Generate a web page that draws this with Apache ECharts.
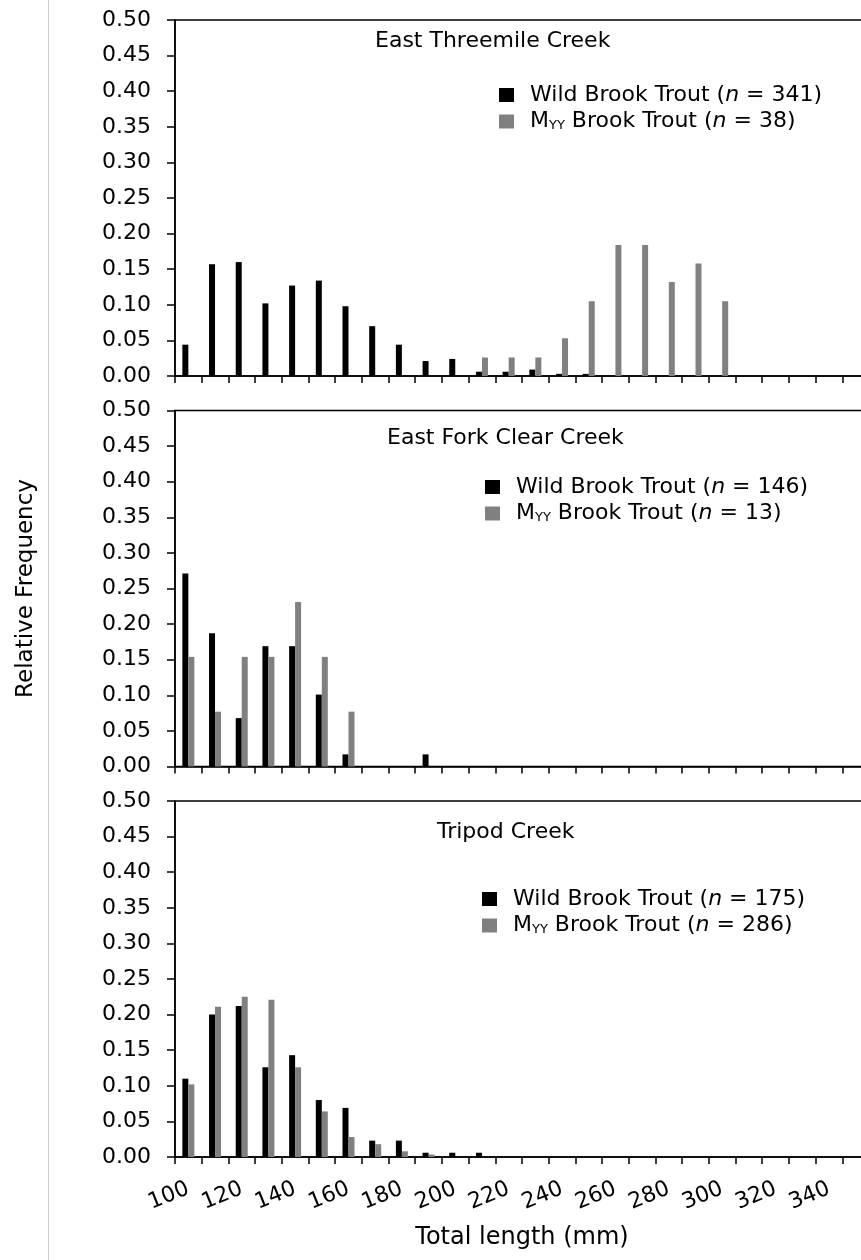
<!DOCTYPE html>
<html>
<head>
<meta charset="utf-8">
<script src="https://cdn.jsdelivr.net/npm/echarts@6/dist/echarts.min.js"></script>
<style>html,body{margin:0;padding:0;background:#fff}#c{width:861px;height:1260px}</style>
</head>
<body>
<div id="c"></div>
<script>
// ---- data ----
const categories = ['100','110','120','130','140','150','160','170','180','190','200','210','220','230','240','250','260','270','280','290','300','310','320','330','340','350'];
const yTicks = [0,0.05,0.10,0.15,0.20,0.25,0.30,0.35,0.40,0.45,0.50];
const panelTitles = ['East Threemile Creek','East Fork Clear Creek','Tripod Creek'];
const wildN = ['341','146','175'];
const myyN = ['38','13','286'];
// East Threemile Creek
const etcWild = [0.044,0.157,0.160,0.102,0.127,0.134,0.098,0.070,0.044,0.021,0.024,0.006,0.006,0.009,0.003,0.003,0,0,0,0,0,0,0,0,0,0];
const etcMyy  = [0,0,0,0,0,0,0,0,0,0,0,0.026,0.026,0.026,0.053,0.105,0.184,0.184,0.132,0.158,0.105,0,0,0,0,0];
// East Fork Clear Creek
const efcWild = [0.271,0.187,0.068,0.169,0.169,0.101,0.017,0,0,0.017,0,0,0,0,0,0,0,0,0,0,0,0,0,0,0,0];
const efcMyy  = [0.154,0.077,0.154,0.154,0.231,0.154,0.077,0,0,0,0,0,0,0,0,0,0,0,0,0,0,0,0,0,0,0];
// Tripod Creek
const tripWild = [0.110,0.200,0.212,0.126,0.143,0.080,0.069,0.023,0.023,0.006,0.006,0.006,0,0,0,0,0,0,0,0,0,0,0,0,0,0];
const tripMyy  = [0.102,0.211,0.225,0.221,0.126,0.064,0.028,0.018,0.008,0.0035,0,0,0,0,0,0,0,0,0,0,0,0,0,0,0,0];

const wildSeries = [etcWild, efcWild, tripWild];
const myySeries = [etcMyy, efcMyy, tripMyy];

// ---- layout / style ----
const FONT = 'DejaVu Sans';
const FS = 22;
const gridTops = [20, 410.5, 801];
const gridH = 356;
const titlePos = [[375,30],[387,427],[437,821]];
const legendPos = [[499,84],[485,476],[482,888]];

const rich = {
  sp: {width: 11, lineHeight: 22},
  t: {fontFamily: FONT, fontSize: FS, color: '#000', lineHeight: 22},
  i: {fontFamily: FONT, fontSize: FS, color: '#000', fontStyle: 'italic', lineHeight: 22},
  s: {fontFamily: FONT, fontSize: 13, color: '#000', lineHeight: 11, verticalAlign: 'bottom'}
};
function legendFormatter(name) {
  const k = name.charAt(0), p = +name.slice(1);
  if (k === 'w') return '{sp|}{t|Wild Brook Trout (}{i|n}{t| = ' + wildN[p] + ')}';
  return '{sp|}{t|M}{s|YY}{t| Brook Trout (}{i|n}{t| = ' + myyN[p] + ')}';
}

const grids = [], xAxes = [], yAxes = [], series = [], titles = [], legends = [];
for (let p = 0; p < 3; p++) {
  grids.push({left: 175, width: 694, top: gridTops[p], height: gridH, show: true,
    borderColor: '#000', borderWidth: 1.5, backgroundColor: 'transparent',
    containLabel: false, outerBoundsMode: 'none'});
  xAxes.push({
    type: 'category', gridIndex: p, data: categories, boundaryGap: true,
    axisLine: {lineStyle: {color: '#000', width: 1.5}},
    axisTick: {show: true, interval: 0, length: 7, lineStyle: {color: '#000', width: 1.5}},
    axisLabel: p === 2 ? {show: true, interval: 1, rotate: 22, margin: 31, color: '#000', fontFamily: FONT, fontSize: FS} : {show: false},
    name: p === 2 ? 'Total length (mm)' : '',
    nameLocation: 'middle', nameGap: 69,
    nameTextStyle: {fontFamily: FONT, fontSize: 24, color: '#000'}
  });
  yAxes.push({
    type: 'value', gridIndex: p, min: yTicks[0], max: yTicks[yTicks.length - 1], interval: 0.05,
    splitLine: {show: false},
    axisLine: {show: true, lineStyle: {color: '#000', width: 1.5}},
    axisTick: {show: true, length: 8, lineStyle: {color: '#000', width: 1.5}},
    axisLabel: {margin: 24, color: '#000', fontFamily: FONT, fontSize: FS, formatter: v => v.toFixed(2)},
    name: p === 1 ? 'Relative Frequency' : '',
    nameLocation: 'middle', nameGap: 137, nameRotate: 90,
    nameTextStyle: {fontFamily: FONT, fontSize: 23, color: '#000'}
  });
  series.push({name: 'w' + p, type: 'bar', xAxisIndex: p, yAxisIndex: p, data: wildSeries[p],
    barWidth: 6, barGap: '0%', itemStyle: {color: '#000000'}});
  series.push({name: 'm' + p, type: 'bar', xAxisIndex: p, yAxisIndex: p, data: myySeries[p],
    barWidth: 6, barGap: '0%', itemStyle: {color: '#808080'}});
  titles.push({text: panelTitles[p], left: titlePos[p][0], top: titlePos[p][1], padding: 0,
    textStyle: {fontFamily: FONT, fontSize: FS, fontWeight: 'normal', color: '#000'}});
  legends.push({orient: 'vertical', left: legendPos[p][0], top: legendPos[p][1], padding: 0,
    itemWidth: 15, itemHeight: 14, itemGap: 4.5, icon: 'rect', selectedMode: false,
    data: ['w' + p, 'm' + p], formatter: legendFormatter, textStyle: {rich: rich}});
}

const chart = echarts.init(document.getElementById('c'), null, {renderer: 'canvas'});
chart.setOption({
  animation: false,
  backgroundColor: '#ffffff',
  title: titles,
  legend: legends,
  grid: grids,
  xAxis: xAxes,
  yAxis: yAxes,
  series: series,
  graphic: [{type: 'line', shape: {x1: 48.5, y1: 0, x2: 48.5, y2: 1260}, style: {stroke: '#cfcfcf', lineWidth: 1}}]
});
</script>
</body>
</html>
